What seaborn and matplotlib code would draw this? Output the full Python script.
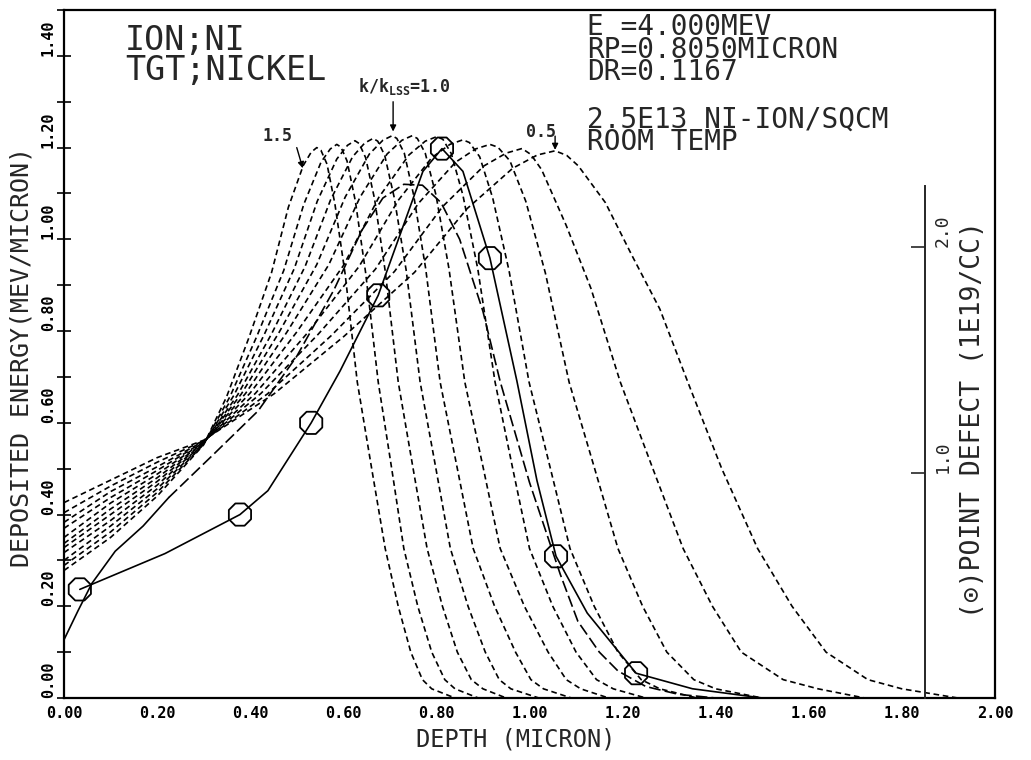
import matplotlib
matplotlib.use("Agg")
import matplotlib.pyplot as plt
import seaborn as sns
import numpy as np
from matplotlib.ticker import MultipleLocator

# ---------------- data ----------------
# deposited energy curves (MeV/micron) for k/kLSS = 1.5 ... 0.5
k15_x = [0, 0.1, 0.2, 0.3, 0.349, 0.397, 0.446, 0.482, 0.514, 0.531, 0.543, 0.552, 0.565, 0.582, 0.604, 0.63, 0.661, 0.69, 0.718, 0.745, 0.770, 0.79, 0.84]
k15_y = [0.278, 0.350, 0.440, 0.552, 0.656, 0.785, 0.928, 1.070, 1.161, 1.190, 1.200, 1.194, 1.164, 1.077, 0.924, 0.689, 0.50, 0.326, 0.20, 0.10, 0.04, 0.02, 0.0]
k14_x = [0, 0.1, 0.2, 0.3, 0.357, 0.414, 0.472, 0.515, 0.552, 0.572, 0.586, 0.595, 0.608, 0.626, 0.648, 0.675, 0.704, 0.73, 0.76, 0.79, 0.818, 0.84, 0.89]
k14_y = [0.289, 0.362, 0.448, 0.553, 0.658, 0.788, 0.932, 1.076, 1.168, 1.197, 1.207, 1.201, 1.171, 1.083, 0.927, 0.689, 0.50, 0.326, 0.20, 0.10, 0.04, 0.02, 0.0]
k13_x = [0, 0.1, 0.2, 0.3, 0.365, 0.430, 0.495, 0.544, 0.586, 0.609, 0.625, 0.634, 0.648, 0.667, 0.690, 0.718, 0.750, 0.78, 0.813, 0.845, 0.875, 0.90, 0.95]
k13_y = [0.300, 0.375, 0.456, 0.554, 0.660, 0.792, 0.937, 1.083, 1.175, 1.205, 1.215, 1.209, 1.178, 1.089, 0.931, 0.689, 0.50, 0.326, 0.20, 0.10, 0.04, 0.02, 0.0]
k12_x = [0, 0.1, 0.2, 0.3, 0.373, 0.446, 0.518, 0.573, 0.620, 0.646, 0.664, 0.674, 0.689, 0.709, 0.735, 0.765, 0.799, 0.83, 0.868, 0.905, 0.935, 0.96, 1.02]
k12_y = [0.317, 0.387, 0.464, 0.555, 0.661, 0.794, 0.941, 1.087, 1.180, 1.210, 1.220, 1.214, 1.183, 1.093, 0.933, 0.689, 0.50, 0.326, 0.20, 0.10, 0.04, 0.02, 0.0]
k11_x = [0, 0.1, 0.2, 0.3, 0.381, 0.462, 0.543, 0.604, 0.656, 0.685, 0.705, 0.715, 0.731, 0.751, 0.777, 0.808, 0.845, 0.879, 0.925, 0.97, 1.003, 1.03, 1.09]
k11_y = [0.328, 0.400, 0.472, 0.556, 0.663, 0.797, 0.945, 1.092, 1.186, 1.216, 1.226, 1.220, 1.188, 1.097, 0.936, 0.689, 0.50, 0.326, 0.20, 0.10, 0.04, 0.02, 0.0]
k10_x = [0, 0.1, 0.2, 0.3, 0.390, 0.479, 0.569, 0.636, 0.694, 0.726, 0.748, 0.759, 0.776, 0.799, 0.827, 0.861, 0.901, 0.937, 0.989, 1.04, 1.079, 1.11, 1.17]
k10_y = [0.337, 0.412, 0.480, 0.557, 0.664, 0.798, 0.945, 1.092, 1.186, 1.216, 1.226, 1.220, 1.188, 1.097, 0.936, 0.689, 0.50, 0.326, 0.20, 0.10, 0.04, 0.02, 0.0]
k09_x = [0, 0.1, 0.2, 0.3, 0.400, 0.500, 0.601, 0.676, 0.741, 0.776, 0.801, 0.814, 0.832, 0.857, 0.889, 0.926, 0.964, 1.0, 1.05, 1.10, 1.144, 1.18, 1.25]
k09_y = [0.350, 0.425, 0.488, 0.558, 0.665, 0.798, 0.944, 1.091, 1.184, 1.214, 1.224, 1.218, 1.187, 1.096, 0.935, 0.689, 0.50, 0.326, 0.20, 0.10, 0.04, 0.02, 0.0]
k08_x = [0, 0.1, 0.2, 0.3, 0.411, 0.523, 0.634, 0.718, 0.790, 0.829, 0.857, 0.871, 0.893, 0.921, 0.956, 0.999, 1.045, 1.087, 1.139, 1.19, 1.24, 1.28, 1.36]
k08_y = [0.370, 0.437, 0.496, 0.559, 0.664, 0.796, 0.941, 1.085, 1.178, 1.207, 1.217, 1.211, 1.180, 1.090, 0.932, 0.689, 0.50, 0.326, 0.20, 0.10, 0.04, 0.02, 0.0]
k07_x = [0, 0.1, 0.2, 0.3, 0.423, 0.546, 0.669, 0.761, 0.841, 0.884, 0.915, 0.932, 0.958, 0.992, 1.034, 1.085, 1.14, 1.19, 1.243, 1.295, 1.353, 1.40, 1.50]
k07_y = [0.383, 0.450, 0.504, 0.560, 0.664, 0.793, 0.935, 1.078, 1.168, 1.197, 1.207, 1.201, 1.171, 1.083, 0.927, 0.689, 0.50, 0.326, 0.20, 0.10, 0.04, 0.02, 0.0]
k06_x = [0, 0.1, 0.2, 0.3, 0.437, 0.574, 0.710, 0.813, 0.902, 0.950, 0.984, 1.003, 1.026, 1.079, 1.132, 1.195, 1.265, 1.33, 1.393, 1.455, 1.545, 1.62, 1.72]
k06_y = [0.404, 0.462, 0.514, 0.561, 0.663, 0.790, 0.930, 1.071, 1.160, 1.188, 1.198, 1.185, 1.152, 1.030, 0.893, 0.689, 0.50, 0.326, 0.20, 0.10, 0.04, 0.02, 0.0]
k05_x = [0, 0.1, 0.2, 0.3, 0.451, 0.602, 0.753, 0.866, 0.964, 1.017, 1.055, 1.080, 1.105, 1.163, 1.22, 1.28, 1.34, 1.413, 1.49, 1.564, 1.637, 1.727, 1.80, 1.92]
k05_y = [0.426, 0.475, 0.524, 0.562, 0.663, 0.789, 0.928, 1.067, 1.155, 1.184, 1.193, 1.183, 1.160, 1.080, 0.965, 0.848, 0.689, 0.50, 0.326, 0.20, 0.10, 0.04, 0.02, 0.0]

# long-dashed calculated curve (solid near the surface)
calc_solid_x = [0.0, 0.03, 0.06, 0.11, 0.17, 0.225]
calc_solid_y = [0.127, 0.19, 0.25, 0.32, 0.375, 0.437]
calc_dash_x = [0.225, 0.32, 0.417, 0.50, 0.58, 0.64, 0.685, 0.73, 0.77, 0.81, 0.85, 0.90, 0.937, 1.0, 1.066, 1.104, 1.15, 1.19, 1.25, 1.32, 1.40]
calc_dash_y = [0.437, 0.53, 0.626, 0.745, 0.89, 1.02, 1.09, 1.12, 1.118, 1.08, 1.0, 0.843, 0.69, 0.47, 0.27, 0.167, 0.10, 0.059, 0.025, 0.008, 0.0]

# point defect profile (1E19/CC)
defect_line_x = [0.034, 0.217, 0.378, 0.438, 0.531, 0.593, 0.675, 0.771, 0.812, 0.857, 0.915, 0.973, 1.016, 1.057, 1.124, 1.229, 1.35, 1.5]
defect_line_v = [0.482, 0.641, 0.814, 0.920, 1.221, 1.451, 1.787, 2.337, 2.438, 2.337, 1.952, 1.406, 0.965, 0.629, 0.377, 0.110, 0.041, 0.0]
defect_pts_x = [0.034, 0.378, 0.531, 0.675, 0.812, 0.915, 1.057, 1.229]
defect_pts_v = [0.482, 0.814, 1.221, 1.787, 2.438, 1.952, 0.629, 0.110]

xticks = [0.0, 0.2, 0.4, 0.6, 0.8, 1.0, 1.2, 1.4, 1.6, 1.8, 2.0]
xtick_labels = ["0.00", "0.20", "0.40", "0.60", "0.80", "1.00", "1.20", "1.40", "1.60", "1.80", "2.00"]
yticks = [0.0, 0.2, 0.4, 0.6, 0.8, 1.0, 1.2, 1.4]
ytick_labels = ["0.00", "0.20", "0.40", "0.60", "0.80", "1.00", "1.20", "1.40"]
rticks = [1.0, 2.0]
rtick_labels = ["1.0", "2.0"]

header_left = "ION;NI\nTGT;NICKEL"
header_right = "E =4.000MEV\nRP=0.8050MICRON\nDR=0.1167"
header_dose = "2.5E13 NI-ION/SQCM\nROOM TEMP"

# ---------------- drawing ----------------
sns.set_style("white")
plt.rcParams["font.family"] = ["DejaVu Sans Mono", "DejaVu Sans"]

W, H = 1031, 760
fig = plt.figure(figsize=(W / 100, H / 100), dpi=100)
L, R, T, B = 64, 995, 10, 698
ax = fig.add_axes([L / W, 1 - B / H, (R - L) / W, (B - T) / H])
ax.set_xlim(0, 2.0)
ax.set_ylim(0, 1.5)

def px(x, y):
    return x / W, 1 - y / H

short_dash = (0, (3.4, 2.2))
long_dash = (0, (7.0, 2.5))
curves = [(k15_x, k15_y), (k14_x, k14_y), (k13_x, k13_y), (k12_x, k12_y),
          (k11_x, k11_y), (k10_x, k10_y), (k09_x, k09_y), (k08_x, k08_y),
          (k07_x, k07_y), (k06_x, k06_y), (k05_x, k05_y)]
for cx, cy in curves:
    sns.lineplot(x=cx, y=cy, ax=ax, color="black", lw=1.2, linestyle=short_dash,
                 estimator=None, sort=False)

sns.lineplot(x=calc_solid_x, y=calc_solid_y, ax=ax, color="black", lw=1.2,
             estimator=None, sort=False)
sns.lineplot(x=calc_dash_x, y=calc_dash_y, ax=ax, color="black", lw=1.2,
             linestyle=long_dash, estimator=None, sort=False)

# right axis for point defects
ax2 = ax.twinx()
ax2.set_ylim(0, 1.5 / 0.4913)
ax2.set_xlim(0, 2.0)
sns.lineplot(x=defect_line_x, y=defect_line_v, ax=ax2, color="black", lw=1.2,
             estimator=None, sort=False)
ax2.scatter(defect_pts_x, defect_pts_v, marker="8", s=300, facecolors="none",
            edgecolors="black", linewidths=1.3, zorder=5)

for s in ["left", "top", "bottom"]:
    ax2.spines[s].set_visible(False)
ax2.spines["right"].set_position(("data", 1.85))
ax2.spines["right"].set_bounds(0, 2.27)
ax2.spines["right"].set_linewidth(1.4)
ax2.set_yticks(rticks)
ax2.set_yticklabels(rtick_labels)
ax2.tick_params(axis="y", direction="in", length=10, width=1.2, pad=6,
                labelsize=13, labelrotation=90)
for lab in ax2.get_yticklabels():
    lab.set_va("bottom")
    lab.set_ha("left")
ax2.set_ylabel("")

# main axes styling
for s in ax.spines.values():
    s.set_linewidth(1.6)
    s.set_color("black")
ax.set_xticks(xticks)
ax.set_xticklabels(xtick_labels)
ax.set_yticks(yticks)
ax.set_yticklabels(ytick_labels)
ax.xaxis.set_minor_locator(MultipleLocator(0.1))
ax.yaxis.set_minor_locator(MultipleLocator(0.1))
ax.tick_params(which="both", direction="inout", length=10, width=1.2,
               top=False, right=False, colors="black")
ax.tick_params(axis="x", labelsize=11, pad=1)
ax.tick_params(axis="y", labelsize=11, pad=1, labelrotation=90)
for lab in ax.get_xticklabels() + ax.get_yticklabels():
    lab.set_fontweight("bold")
for lab in ax.get_yticklabels():
    lab.set_va("bottom")
ax.set_xlabel("")
ax.set_ylabel("")

# axis titles
fig.text(*px(516, 747), "DEPTH (MICRON)", fontsize=17, ha="center", va="baseline")
fig.text(*px(22, 357), "DEPOSITED ENERGY(MEV/MICRON)", fontsize=18, rotation=90,
         ha="center", va="center")
fig.text(*px(973, 420), "(\u2299)POINT DEFECT (1E19/CC)", fontsize=19, rotation=90,
         ha="center", va="center", family=["DejaVu Sans Mono", "DejaVu Sans"])

# header texts (multi-line blocks, anchored at the baseline of the last line)
fig.text(*px(125, 80), header_left, fontsize=24, ha="left", va="baseline",
         linespacing=0.87)
fig.text(*px(587, 80), header_right, fontsize=20, ha="left", va="baseline",
         linespacing=0.74)
fig.text(*px(587, 150), header_dose, fontsize=20, ha="left", va="baseline",
         linespacing=0.74)

# curve annotations
arrow = dict(arrowstyle="-|>", color="black", lw=1.0, mutation_scale=9,
             shrinkA=0, shrinkB=0)
fig.text(*px(358, 92), r"k/k$_{\mathregular{LSS}}$=1.0", fontsize=12,
         fontweight="bold", ha="left", va="baseline")
ax.annotate("", xy=(0.707, 1.235), xytext=(0.707, 1.30), arrowprops=arrow)
fig.text(*px(262, 141), "1.5", fontsize=12, fontweight="bold", ha="left", va="baseline")
ax.annotate("", xy=(0.513, 1.155), xytext=(0.50, 1.20), arrowprops=arrow)
fig.text(*px(526, 137), "0.5", fontsize=12, fontweight="bold", ha="left", va="baseline")
ax.annotate("", xy=(1.055, 1.195), xytext=(1.055, 1.225), arrowprops=arrow)

fig.savefig("out.png", dpi=100, facecolor="white")
